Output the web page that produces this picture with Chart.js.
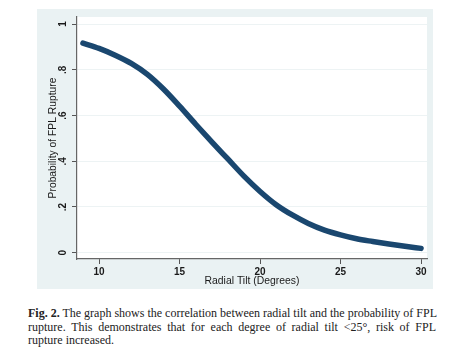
<!DOCTYPE html>
<html>
<head>
<meta charset="utf-8">
<script src="https://cdn.jsdelivr.net/npm/chart.js@4/dist/chart.umd.min.js"></script>
<style>
  html, body { margin: 0; padding: 0; background: #ffffff; width: 452px; height: 359px; overflow: hidden; }
  #caption { position: absolute; left: 28px; top: 307px; width: 408px; height: 42px; font-family: "Liberation Serif", serif; font-size: 12px; line-height: 13.5px; color: #222; }
  #caption p { margin: 0; text-align: justify; text-align-last: justify; white-space: nowrap; }
  #caption p.last { text-align-last: left; }
  #wrap { position: absolute; left: 0; top: 0; width: 452px; height: 290px; z-index: 2; }
  #xlabels { position: absolute; left: 0; top: 0; width: 452px; height: 290px; z-index: 3; pointer-events: none; }
  #xlabels span { position: absolute; font: bold 10px "Liberation Sans", sans-serif; line-height: 10px; color: #1a1a1a; transform: translate(-50%, -50%); white-space: nowrap; }
</style>
</head>
<body>
<div id="caption">
  <p><b>Fig. 2.</b> The graph shows the correlation between radial tilt and the probability of FPL</p>
  <p>rupture. This demonstrates that for each degree of radial tilt &lt;25°, risk of FPL</p>
  <p class="last">rupture increased.</p>
</div>
<div id="wrap"><canvas id="c" width="452" height="290"></canvas></div>
<div id="xlabels"></div>
<script>
// Data
const radialTilt = [9, 10, 11, 12, 13, 14, 15, 16, 17, 18, 19, 20, 21, 22, 23, 24, 25, 26, 27, 28, 29, 30];
const probability = [0.917, 0.894, 0.864, 0.828, 0.78, 0.716, 0.641, 0.562, 0.485, 0.41, 0.335, 0.268, 0.21, 0.165, 0.128, 0.099, 0.078, 0.061, 0.049, 0.038, 0.028, 0.019];
const xTicks = [10, 15, 20, 25, 30];
const xTickLabels = ["10", "15", "20", "25", "30"];
const yTicks = [0, 0.2, 0.4, 0.6, 0.8, 1];
const yTickLabels = ["0", ".2", ".4", ".6", ".8", "1"];
const xTitle = "Radial Tilt (Degrees)";
const yTitle = "Probability of FPL Rupture";

const points = radialTilt.map((x, i) => ({ x: x, y: probability[i] }));

const panelPlugin = {
  id: 'statapanel',
  beforeDraw(chart) {
    const ctx = chart.ctx;
    const a = chart.chartArea;
    ctx.save();
    ctx.fillStyle = '#eaf2f3';
    ctx.fillRect(37, 9, 396, 280);
    ctx.fillStyle = '#ffffff';
    ctx.fillRect(a.left, a.top, a.right - a.left, a.bottom - a.top);
    ctx.restore();
  },
  afterDraw(chart) {
    const ctx = chart.ctx;
    const ys = chart.scales.y;
    ctx.save();
    ctx.fillStyle = '#1a1a1a';
    ctx.font = 'bold 10px "Liberation Sans"';
    ctx.textAlign = 'center';
    ctx.textBaseline = 'middle';
    for (let i = 0; i < yTicks.length; i++) {
      ctx.save();
      ctx.translate(ys.right - 14, ys.getPixelForValue(yTicks[i]));
      ctx.rotate(-Math.PI / 2);
      ctx.fillText(yTickLabels[i], 0, 0.5);
      ctx.restore();
    }
    ctx.restore();
  }
};

const chart = new Chart(document.getElementById('c'), {
  type: 'line',
  data: {
    datasets: [{
      data: points,
      borderColor: '#1a476f',
      borderWidth: 5.5,
      pointRadius: 0,
      cubicInterpolationMode: 'monotone',
      borderCapStyle: 'round',
      borderJoinStyle: 'round',
      fill: false
    }]
  },
  options: {
    responsive: false,
    animation: false,
    devicePixelRatio: 1,
    layout: { padding: { left: 0, top: 17, right: 25, bottom: 0 } },
    plugins: { legend: { display: false }, tooltip: { enabled: false } },
    scales: {
      x: {
        type: 'linear',
        min: 8.63,
        max: 30.37,
        afterBuildTicks(scale) { scale.ticks = xTicks.map(v => ({ value: v })); },
        afterFit(scale) { scale.height = 31; },
        grid: { drawOnChartArea: false, drawTicks: true, tickLength: 5, tickColor: '#555', color: '#555' },
        border: { display: true, color: '#666', width: 1.2 },
        ticks: { display: false },
        title: {
          display: true,
          text: xTitle,
          color: '#1a1a1a',
          font: { family: 'Liberation Sans', size: 10.4 },
          padding: { top: 0, bottom: 3 }
        }
      },
      y: {
        type: 'linear',
        min: -0.0275,
        max: 1.031,
        afterBuildTicks(scale) { scale.ticks = yTicks.map(v => ({ value: v })); },
        afterFit(scale) { scale.width = 77; },
        grid: { drawOnChartArea: true, color: '#edf3f4', lineWidth: 1, tickLength: 5, tickColor: '#555' },
        border: { display: true, color: '#666', width: 1.2 },
        ticks: { display: false },
        title: {
          display: true,
          text: yTitle,
          color: '#1a1a1a',
          font: { family: 'Liberation Sans', size: 10.3 },
          padding: { top: 46.5, bottom: 0 }
        }
      }
    }
  },
  plugins: [panelPlugin]
});

// x tick labels placed from the library's x scale
const xs = chart.scales.x;
const holder = document.getElementById('xlabels');
xTicks.forEach((v, i) => {
  const s = document.createElement('span');
  s.textContent = xTickLabels[i];
  s.style.left = xs.getPixelForValue(v) + 'px';
  s.style.top = (xs.top + 12.5) + 'px';
  holder.appendChild(s);
});
</script>
</body>
</html>
